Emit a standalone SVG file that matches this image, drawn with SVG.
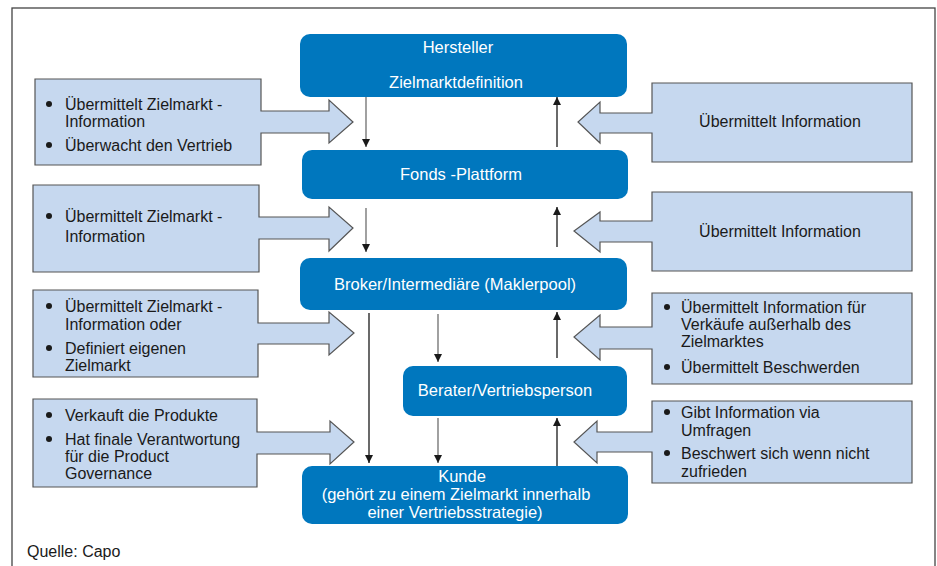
<svg xmlns="http://www.w3.org/2000/svg" width="937" height="566" viewBox="0 0 937 566">
<style>
  text { font-family: "Liberation Sans", Arial, sans-serif; font-size: 16px; }
  .node rect { fill: #0077be; }
  .node text { fill: #ffffff; text-anchor: middle; font-size: 16.5px; }
  .info path { fill: #c6d8ef; stroke: #555555; stroke-width: 1.2; }
  .info text { fill: #1a1a1a; }
  .info circle { fill: #1a1a1a; }
  .c { text-anchor: middle; }
  .dn { stroke: #6e6e6e; stroke-width: 1.3; fill: none; marker-end: url(#ah); }
  .up { stroke: #1a1a1a; stroke-width: 1.3; fill: none; marker-end: url(#ah); }
</style>
<defs>
  <marker id="ah" markerUnits="userSpaceOnUse" markerWidth="9" markerHeight="9" refX="8" refY="4" orient="auto">
    <path d="M0,0 L8,4 L0,8 z" fill="#1a1a1a"/>
  </marker>
</defs>
<rect x="0" y="0" width="937" height="566" fill="#ffffff"/>
<rect x="12" y="8" width="923" height="570" fill="none" stroke="#444444" stroke-width="1.3"/>

<g id="hersteller" class="node">
  <rect x="300" y="34" width="327" height="63" rx="10"/>
  <text x="458" y="53">Hersteller</text>
  <text x="456" y="88">Zielmarktdefinition</text>
</g>
<g id="fonds" class="node">
  <rect x="302" y="150" width="326" height="49" rx="10"/>
  <text x="461" y="180">Fonds -Plattform</text>
</g>
<g id="broker" class="node">
  <rect x="300" y="258" width="327" height="52" rx="10"/>
  <text x="455" y="290">Broker/Intermediäre (Maklerpool)</text>
</g>
<g id="berater" class="node">
  <rect x="403" y="366" width="224" height="50" rx="10"/>
  <text x="505" y="396">Berater/Vertriebsperson</text>
</g>
<g id="kunde" class="node">
  <rect x="302" y="466" width="326" height="58" rx="10"/>
  <text x="462" y="482">Kunde</text>
  <text x="456" y="500">(gehört zu einem Zielmarkt innerhalb</text>
  <text x="455" y="518">einer Vertriebsstrategie)</text>
</g>

<g id="info-l1" class="info">
  <path d="M35,79 H261 V111 H329 V100 L353,122 L329,143 V133 H261 V165 H35 Z"/>
  <circle cx="49" cy="104" r="3"/>
  <text x="65" y="110">Übermittelt Zielmarkt -</text>
  <text x="65" y="127">Information</text>
  <circle cx="49" cy="145" r="3"/>
  <text x="65" y="151">Überwacht den Vertrieb</text>
</g>
<g id="info-l2" class="info">
  <path d="M33,185 H259 V217 H329 V207 L353,228 L329,251 V239 H259 V272 H33 Z"/>
  <circle cx="49" cy="216" r="3"/>
  <text x="65" y="222">Übermittelt Zielmarkt -</text>
  <text x="65" y="242">Information</text>
</g>
<g id="info-l3" class="info">
  <path d="M33,290 H258 V323 H329 V312 L354,333 L329,355 V344 H258 V377 H33 Z"/>
  <circle cx="49" cy="306" r="3"/>
  <text x="65" y="312">Übermittelt Zielmarkt -</text>
  <text x="65" y="330">Information oder</text>
  <circle cx="49" cy="348" r="3"/>
  <text x="65" y="354">Definiert eigenen</text>
  <text x="65" y="371">Zielmarkt</text>
</g>
<g id="info-l4" class="info">
  <path d="M33,399 H257 V432 H330 V421 L354,442 L330,464 V454 H257 V487 H33 Z"/>
  <circle cx="49" cy="415" r="3"/>
  <text x="65" y="421">Verkauft die Produkte</text>
  <circle cx="49" cy="439" r="3"/>
  <text x="65" y="445">Hat finale Verantwortung</text>
  <text x="65" y="462">für die Product</text>
  <text x="65" y="479">Governance</text>
</g>

<g id="info-r1" class="info">
  <path d="M912,83 H652 V113 H600 V102 L578,122 L600,143 V133 H652 V162 H912 Z"/>
  <text class="c" x="780" y="127">Übermittelt Information</text>
</g>
<g id="info-r2" class="info">
  <path d="M912,192 H652 V221 H600 V212 L574,231 L600,252 V242 H652 V271 H912 Z"/>
  <text class="c" x="780" y="237">Übermittelt Information</text>
</g>
<g id="info-r3" class="info">
  <path d="M912,293 H652 V327 H600 V315 L574,337 L600,360 V349 H652 V384 H912 Z"/>
  <circle cx="667" cy="307" r="3"/>
  <text x="681" y="313">Übermittelt Information für</text>
  <text x="681" y="330">Verkäufe außerhalb des</text>
  <text x="681" y="347">Zielmarktes</text>
  <circle cx="667" cy="367" r="3"/>
  <text x="681" y="373">Übermittelt Beschwerden</text>
</g>
<g id="info-r4" class="info">
  <path d="M912,401 H652 V432 H597 V421 L574,442 L597,463 V452 H652 V483 H912 Z"/>
  <circle cx="667" cy="412" r="3"/>
  <text x="681" y="418">Gibt Information via</text>
  <text x="681" y="436">Umfragen</text>
  <circle cx="667" cy="453" r="3"/>
  <text x="681" y="459">Beschwert sich wenn nicht</text>
  <text x="681" y="477">zufrieden</text>
</g>

<g id="connectors">
  <line class="dn" x1="366" y1="97" x2="366" y2="147"/>
  <line class="up" x1="557" y1="147" x2="557" y2="97"/>
  <line class="dn" x1="366" y1="208" x2="366" y2="252"/>
  <line class="up" x1="557" y1="247" x2="557" y2="207"/>
  <line class="up" x1="369" y1="313" x2="369" y2="463"/>
  <line class="dn" x1="438" y1="314" x2="438" y2="362"/>
  <line class="up" x1="557" y1="358" x2="557" y2="312"/>
  <line class="dn" x1="438" y1="418" x2="438" y2="463"/>
  <line class="up" x1="557" y1="466" x2="557" y2="418"/>
</g>

<text x="27" y="557" fill="#1a1a1a">Quelle: Capo</text>
</svg>
